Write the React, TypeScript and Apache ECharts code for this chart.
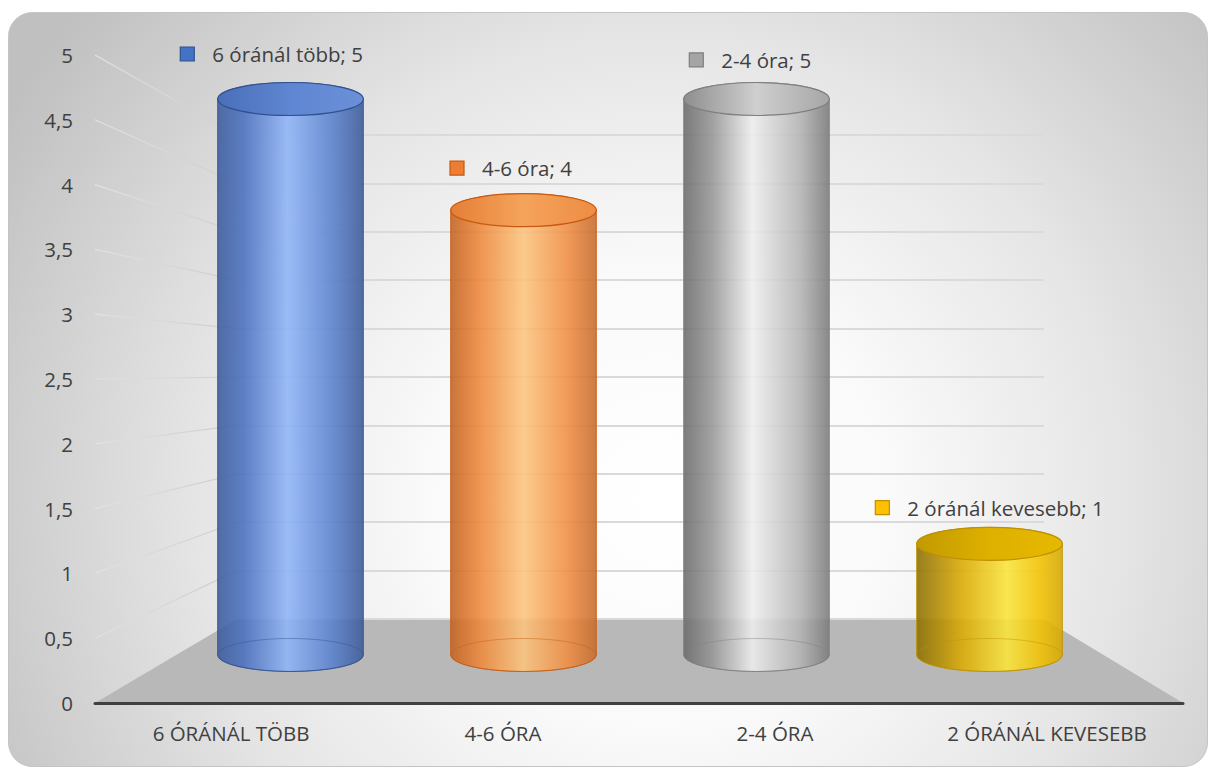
import React, { useEffect, useRef } from 'react';
import * as echarts from 'echarts';

// ---- data ----
const categories = ['6 ÓRÁNÁL TÖBB', '4-6 ÓRA', '2-4 ÓRA', '2 ÓRÁNÁL KEVESEBB'];
const seriesNames = ['6 óránál több', '4-6 óra', '2-4 óra', '2 óránál kevesebb'];
const values = [5, 4, 5, 1];
const yTicks = [0, 0.5, 1, 1.5, 2, 2.5, 3, 3.5, 4, 4.5, 5];

// ---- styles ----
const FONT = '"Open Sans", "Liberation Sans", sans-serif';
const TEXT_COLOR = '#404040';
const W = 1219;
const H = 770;
const GRID_FRONT = { left: 95, right: 36, top: 55, bottom: 67 };
const GRID_BARS = { left: 174, right: 113, top: 99, bottom: 115 };
const GRID_BACK = { left: 237, right: 175, top: 135, bottom: 151 };

const palettes = [
  {
    body: [['#3b5b9c', 0], ['#4a70bf', 0.18], ['#8fb5f7', 0.48], ['#5a82d0', 0.78], ['#3a5997', 1]],
    top: [['#4a6fb9', 0], ['#5f86d2', 0.5], ['#6b90d8', 1]],
    stroke: '#2f528f',
    key: '#4472c4',
  },
  {
    body: [['#c2621f', 0], ['#ee873a', 0.2], ['#fcc47d', 0.5], ['#f08d42', 0.8], ['#c66a2a', 1]],
    top: [['#e47f35', 0], ['#f5a35c', 0.5], ['#ee8c44', 1]],
    stroke: '#c55a11',
    key: '#ed7d31',
  },
  {
    body: [['#6a6a6a', 0], ['#979797', 0.2], ['#eeeeee', 0.47], ['#b4b4b4', 0.8], ['#7a7a7a', 1]],
    top: [['#8e8e8e', 0], ['#cfcfcf', 0.5], ['#a6a6a6', 1]],
    stroke: '#7f7f7f',
    key: '#a5a5a5',
  },
  {
    body: [['#8a6e00', 0], ['#d9a800', 0.3], ['#fbe53a', 0.62], ['#f2c200', 0.85], ['#d6a800', 1]],
    top: [['#c29a00', 0], ['#deb000', 0.5], ['#e6b900', 1]],
    stroke: '#bf9000',
    key: '#ffc000',
  },
];

let measureCtx: CanvasRenderingContext2D | null = null;
function textWidth(t: string, font: string) {
  if (!measureCtx) measureCtx = document.createElement('canvas').getContext('2d');
  if (!measureCtx) return t.length * 10;
  measureCtx.font = font;
  return measureCtx.measureText(t).width;
}

const grad = (stops: any[]) =>
  new echarts.graphic.LinearGradient(
    0, 0, 1, 0,
    stops.map((s: any) => ({ offset: s[1], color: s[0] }))
  );

export default function App() {
  const ref = useRef<HTMLDivElement>(null);

  useEffect(() => {
    if (!ref.current) return;
    const chart = echarts.init(ref.current, null, { renderer: 'svg' });

    const bg = {
      id: 'bg',
      type: 'rect',
      z: -100,
      silent: true,
      shape: { x: 8.5, y: 12.5, width: 1199, height: 754, r: 24 },
      style: {
        fill: new echarts.graphic.RadialGradient(
          660, 500, 760,
          [
            { offset: 0, color: '#ffffff' },
            { offset: 0.3, color: '#fafafa' },
            { offset: 0.6, color: '#e6e6e6' },
            { offset: 1, color: '#c0c0c0' },
          ],
          true
        ),
        stroke: '#c4c4c4',
        lineWidth: 1,
      },
    };

    const renderItem = (params: any, api: any) => {
      const idx = api.value(0);
      const v = api.value(1);
      const pal = palettes[idx % palettes.length];
      const top = api.coord([idx, v]);
      const base = api.coord([idx, 0]);
      const band = api.size([1, 0])[0];
      const w = band * 0.625;
      const cx = top[0];
      const x0 = cx - w / 2;
      const x1 = cx + w / 2;
      const rx = w / 2;
      const ry = 16.5;
      const yt = top[1];
      const yb = base[1];
      const d = `M${x0},${yt} L${x0},${yb} A${rx},${ry} 0 0 0 ${x1},${yb} L${x1},${yt} A${rx},${ry} 0 0 0 ${x0},${yt} Z`;
      const label = `${seriesNames[idx]}; ${String(v).replace('.', ',')}`;
      const font = `20.5px ${FONT}`;
      const tw = textWidth(label, font);
      const sq = 14;
      const gap = 18;
      const total = sq + gap + tw;
      // perspective-like drift of the label relative to the cylinder
      const lx = cx + (cx - 988) * 0.027 - total / 2;
      const ly = yt - 45 + (cx - 290) * 0.0125;
      return {
        type: 'group',
        children: [
          {
            type: 'path',
            shape: { pathData: d },
            style: { fill: grad(pal.body), stroke: pal.stroke, lineWidth: 1, opacity: 0.88 },
          },
          {
            type: 'ellipse',
            shape: { cx, cy: yb, rx, ry },
            style: { fill: 'none', stroke: pal.stroke, lineWidth: 1, opacity: 0.45 },
          },
          {
            type: 'ellipse',
            shape: { cx, cy: yt, rx, ry },
            style: { fill: grad(pal.top), stroke: pal.stroke, lineWidth: 1.2 },
          },
          {
            type: 'rect',
            shape: { x: lx, y: ly - sq / 2, width: sq, height: sq },
            style: { fill: pal.key, stroke: pal.stroke, lineWidth: 1.2 },
          },
          {
            type: 'text',
            style: {
              text: label,
              x: lx + sq + gap,
              y: ly,
              font,
              fill: TEXT_COLOR,
              textAlign: 'left',
              align: 'left',
              textVerticalAlign: 'middle',
              verticalAlign: 'middle',
            },
          },
        ],
      };
    };

    chart.setOption({
      animation: false,
      textStyle: { fontFamily: FONT },
      graphic: [bg],
      grid: [
        { ...GRID_FRONT, containLabel: false },
        { ...GRID_BARS, containLabel: false },
        { ...GRID_BACK, containLabel: false },
      ],
      xAxis: [
        {
          gridIndex: 0,
          type: 'category',
          data: categories,
          axisLine: { show: true, lineStyle: { color: '#404040', width: 3 } },
          axisTick: { show: false },
          splitLine: { show: false },
          axisLabel: {
            margin: 19,
            interval: 0,
            fontSize: 20.5,
            fontFamily: FONT,
            color: TEXT_COLOR,
          },
          z: 3,
        },
        { gridIndex: 1, type: 'category', data: categories, show: false },
        { gridIndex: 2, type: 'category', data: categories, show: false },
      ],
      yAxis: [
        {
          gridIndex: 0,
          type: 'value',
          min: yTicks[0],
          max: yTicks[yTicks.length - 1],
          interval: yTicks[1] - yTicks[0],
          axisLine: { show: false },
          axisTick: { show: false },
          splitLine: { show: false },
          axisLabel: {
            margin: 22,
            fontSize: 20.5,
            fontFamily: FONT,
            color: TEXT_COLOR,
            formatter: (v: number) => String(v).replace('.', ','),
          },
        },
        {
          gridIndex: 1,
          type: 'value',
          min: yTicks[0],
          max: yTicks[yTicks.length - 1],
          show: false,
          splitLine: { show: false },
        },
        {
          gridIndex: 2,
          type: 'value',
          min: yTicks[0],
          max: yTicks[yTicks.length - 1],
          interval: yTicks[1] - yTicks[0],
          axisLine: { show: false },
          axisTick: { show: false },
          axisLabel: { show: false },
          splitLine: { show: true, lineStyle: { color: '#dadada', width: 2 } },
        },
      ],
      series: [
        {
          type: 'custom',
          name: 'órák',
          xAxisIndex: 1,
          yAxisIndex: 1,
          z: 5,
          data: values.map((v, i) => [i, v]),
          encode: { x: 0, y: 1 },
          renderItem,
        },
      ],
    });

    // decorative floor and side-wall lines, placed through the axes' own scales
    const yF = (v: number) => chart.convertToPixel({ yAxisIndex: 0 }, v) as number;
    const yB = (v: number) => chart.convertToPixel({ yAxisIndex: 2 }, v) as number;
    const fl = GRID_FRONT.left;
    const fr = W - GRID_FRONT.right;
    const bl = GRID_BACK.left;
    const br = W - GRID_BACK.right;
    const floor = {
      id: 'floor',
      type: 'polygon',
      z: -5,
      silent: true,
      shape: {
        points: [
          [fl, yF(0)],
          [bl, yB(0)],
          [br, yB(0)],
          [fr, yF(0)],
        ],
      },
      style: { fill: '#b8b8b8' },
    };
    const wallLines = yTicks
      .filter((v) => v > 0)
      .map((v, i) => ({
        id: 'wall' + i,
        type: 'line',
        z: -5,
        silent: true,
        shape: { x1: fl, y1: yF(v), x2: bl, y2: yB(v) },
        style: {
          stroke: new echarts.graphic.LinearGradient(0, 0, 1, 0, [
            { offset: 0, color: '#e2e2e2' },
            { offset: 1, color: '#cdcdcd' },
          ]),
          lineWidth: 1.2,
        },
      }));
    chart.setOption({ graphic: [bg, floor, ...wallLines] }, { replaceMerge: ['graphic'] });

    return () => chart.dispose();
  }, []);

  return (
    <div
      ref={ref}
      style={{ position: 'fixed', left: 0, top: 0, width: W, height: H, background: '#ffffff' }}
    />
  );
}
